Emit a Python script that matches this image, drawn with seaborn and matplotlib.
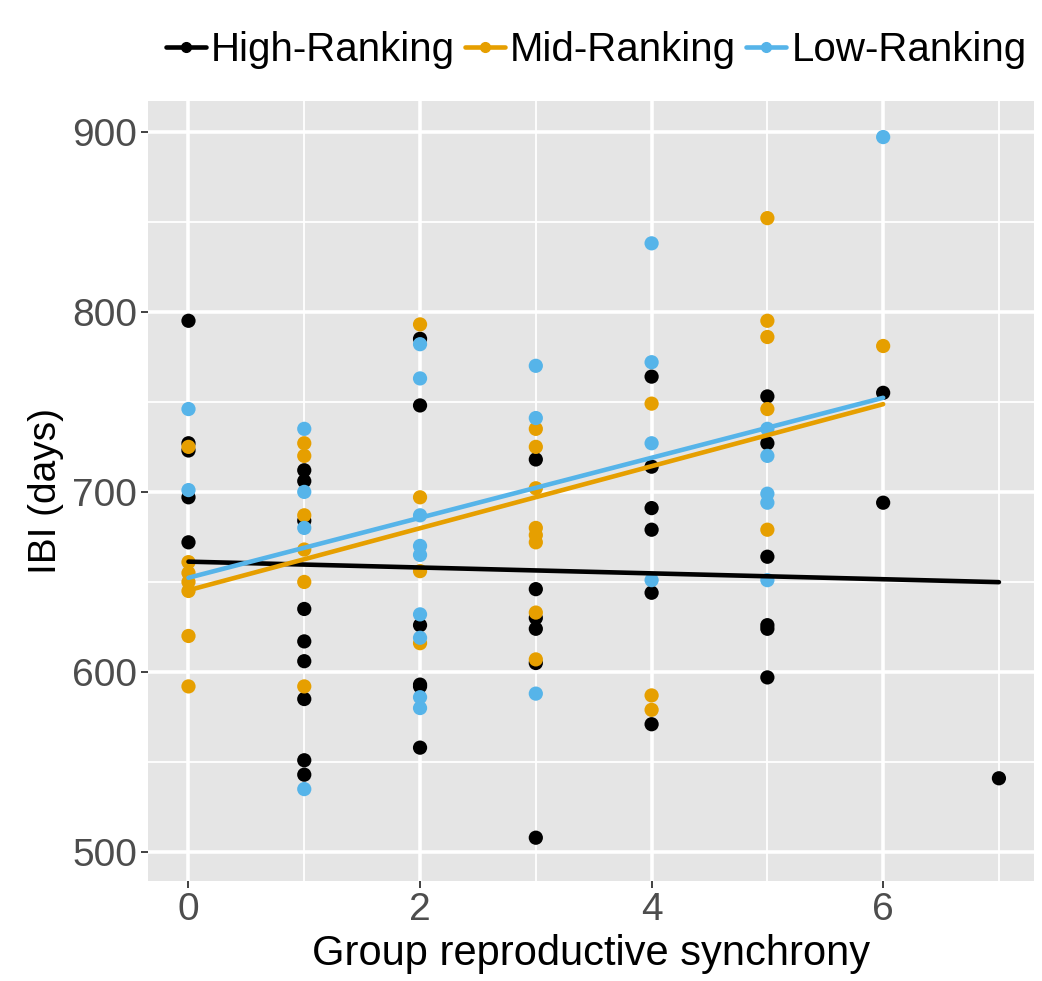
import numpy as np
import pandas as pd
import matplotlib
matplotlib.use("Agg")
import matplotlib.pyplot as plt
from matplotlib.lines import Line2D
from matplotlib.ticker import MultipleLocator
import seaborn as sns

# values, per rank group
high_x = [0, 0, 0, 0, 0,
          1, 1, 1, 1, 1, 1, 1, 1, 1,
          2, 2, 2, 2, 2, 2,
          3, 3, 3, 3, 3, 3,
          4, 4, 4, 4, 4, 4,
          5, 5, 5, 5, 5, 5,
          6, 6,
          7]
high_y = [795, 727, 723, 697, 672,
          712, 706, 684, 635, 617, 606, 585, 551, 543,
          785, 748, 626, 593, 592, 558,
          718, 646, 630, 624, 605, 508,
          764, 714, 691, 679, 644, 571,
          753, 727, 664, 626, 624, 597,
          755, 694,
          541]

mid_x = [0, 0, 0, 0, 0, 0, 0,
         1, 1, 1, 1, 1, 1,
         2, 2, 2, 2,
         3, 3, 3, 3, 3, 3, 3, 3,
         4, 4, 4,
         5, 5, 5, 5, 5,
         6]
mid_y = [725, 661, 655, 650, 645, 620, 592,
         727, 720, 687, 668, 650, 592,
         793, 697, 656, 616,
         735, 725, 702, 680, 676, 672, 633, 607,
         749, 587, 579,
         852, 795, 786, 746, 679,
         781]

low_x = [0, 0,
         1, 1, 1, 1,
         2, 2, 2, 2, 2, 2, 2, 2, 2,
         3, 3, 3,
         4, 4, 4, 4,
         5, 5, 5, 5, 5,
         6]
low_y = [746, 701,
         735, 700, 680, 535,
         782, 763, 687, 670, 665, 632, 619, 586, 580,
         770, 741, 588,
         838, 772, 727, 651,
         735, 720, 699, 694, 651,
         897]

groups = ["High-Ranking", "Mid-Ranking", "Low-Ranking"]
colors = ["#000000", "#E69F00", "#56B4E9"]

df = pd.concat([
    pd.DataFrame({"sync": high_x, "ibi": high_y, "rank": groups[0]}),
    pd.DataFrame({"sync": mid_x, "ibi": mid_y, "rank": groups[1]}),
    pd.DataFrame({"sync": low_x, "ibi": low_y, "rank": groups[2]}),
])

sns.set_theme(style="darkgrid", rc={
    "axes.facecolor": "#E5E5E5",
    "grid.color": "white",
})
plt.rcParams["font.family"] = ["Liberation Sans", "DejaVu Sans"]

fig = plt.figure(figsize=(10.42, 9.81), dpi=100)
ax = fig.add_axes([0.142, 0.102, 0.850, 0.795])

sns.scatterplot(data=df, x="sync", y="ibi", hue="rank", hue_order=groups,
                palette=colors, s=105, edgecolor="none", legend=False,
                ax=ax, zorder=3)

for g, c in zip(groups, colors):
    sns.regplot(data=df[df["rank"] == g], x="sync", y="ibi", scatter=False,
                ci=None, truncate=True, color=c,
                line_kws={"lw": 3.3, "zorder": 4}, ax=ax)

ax.set_xlim(-0.35, 7.3)
ax.set_ylim(484, 917)
ax.xaxis.set_major_locator(MultipleLocator(2))
ax.xaxis.set_minor_locator(MultipleLocator(1))
ax.yaxis.set_major_locator(MultipleLocator(100))
ax.yaxis.set_minor_locator(MultipleLocator(50))
ax.grid(which="major", color="white", lw=2.6)
ax.grid(which="minor", color="white", lw=1.3)
ax.set_axisbelow(True)
for s in ax.spines.values():
    s.set_visible(False)

ax.tick_params(axis="both", which="major", labelsize=28, labelcolor="#4D4D4D",
               left=True, bottom=True, length=5, width=1.3, color="#333333",
               pad=3)
ax.tick_params(axis="both", which="minor", left=False, bottom=False)

ax.set_xlabel("Group reproductive synchrony", fontsize=30, color="black", labelpad=4)
ax.set_ylabel("IBI (days)", fontsize=28, color="black", labelpad=6)

handles = [Line2D([0], [0], color=c, lw=3.3, marker="o", markersize=7)
           for c in colors]
leg = fig.legend(handles, groups, loc="upper center", bbox_to_anchor=(0.572, 1.005),
                 ncol=3, frameon=False, fontsize=29, handlelength=1.0,
                 handletextpad=0.12, columnspacing=0.25)
for t in leg.get_texts():
    t.set_color("black")

fig.savefig("out.png", dpi=100)
